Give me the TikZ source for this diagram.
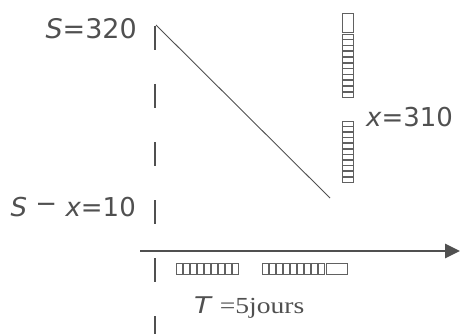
\documentclass[tikz,border=0pt]{standalone}
\usepackage{fontspec}
\setmainfont{DejaVu Sans}
\newfontfamily\romfont{Liberation Serif}
\usetikzlibrary{positioning,arrows.meta}
\definecolor{ink}{HTML}{505050}
\tikzset{
  lbl/.style={text=ink, inner sep=0pt, font=\fontsize{27}{27}\selectfont},
  guide/.style={draw=ink, line width=1.4pt, dash pattern=on 24pt off 34pt},
  decl/.style={draw=ink, line width=0.9pt},
  axis/.style={draw=ink, line width=2.6pt, -{Triangle[length=15pt, width=14pt]}},
  tofu/.style={draw=ink!90, line width=0.8pt},
}

\begin{document}
\begin{tikzpicture}[x=1pt, y=-1pt]
\useasboundingbox (0,0) rectangle (460,334);
% reperes
\coordinate (gtop) at (155,26);
\coordinate (gbot) at (155,334);
\coordinate (s0) at (156,25);
\coordinate (s1) at (330,198);
\coordinate (ax0) at (140,251);
\coordinate (ax1) at (460,251);
\draw[guide] (gtop) -- (gbot);
\draw[decl] (s0) -- (s1);
\draw[axis] (ax0) -- (ax1);
% etiquettes
\node[lbl, anchor=base east] (lS) at (137,39) {\itshape S\upshape =320};
\node[lbl, anchor=base east, font=\fontsize{26}{26}\selectfont] (lSx) at (136,216) {\itshape S\upshape{} \raisebox{4pt}{−} \itshape x\upshape =10};
\node[lbl, anchor=base west, font=\fontsize{26}{26}\selectfont] (lx) at (366,127) {\itshape x\upshape =310};
\node[lbl, anchor=base west, font=\fontsize{23}{23}\selectfont] (lT) at (194,313) {\scalebox{1.2}[1]{\itshape T\upshape{} {\romfont=5jours}}};
% caracteres manquants
\draw[tofu] (342,13) rectangle (353,32);
\foreach \i in {0,...,10}
  \draw[tofu] (342,34+5.8*\i) rectangle ++(11,5.2);
\foreach \i in {0,...,10}
  \draw[tofu] (342,121+5.6*\i) rectangle ++(11,5.0);
\foreach \i in {0,...,8}
  \draw[tofu] (176+7*\i,263) rectangle ++(6.3,11);
\foreach \i in {0,...,8}
  \draw[tofu] (262+7*\i,263) rectangle ++(6.3,11);
\draw[tofu] (326,263) rectangle (347,274);
\end{tikzpicture}
\end{document}
